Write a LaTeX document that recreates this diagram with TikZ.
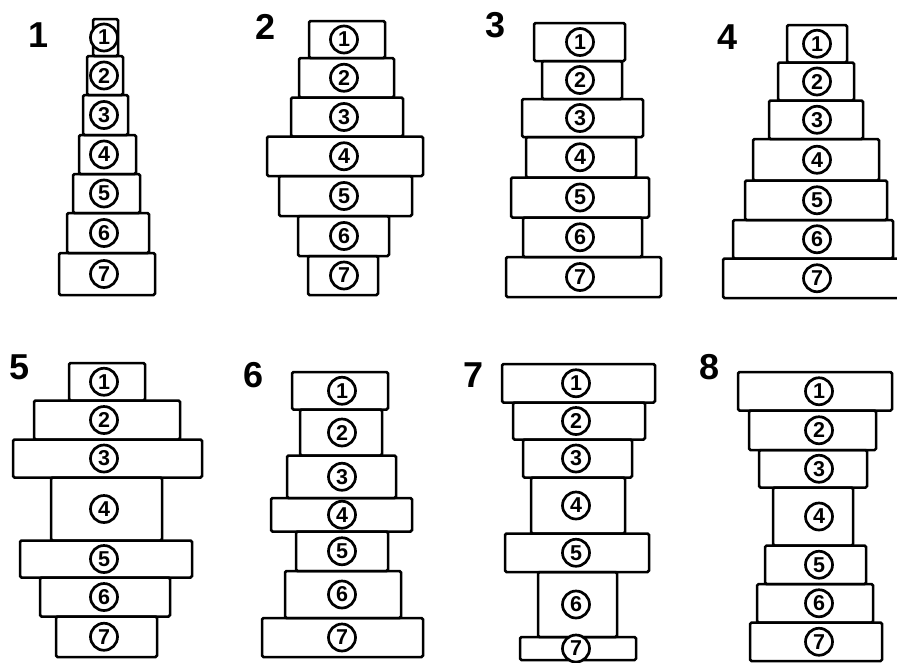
\documentclass[tikz,border=0pt]{standalone}
\usepackage{fontspec}
\setmainfont{Liberation Sans}
\newcommand\bx[7]{%
  \pgfmathsetmacro\bw{#3-#2}\pgfmathsetmacro\bh{#5-#4}%
  \pgfmathsetmacro\bxc{(#2+#3)/2}\pgfmathsetmacro\byc{(#4+#5)/2}%
  \node[blk, minimum width=\bw pt, minimum height=\bh pt] (#1) at (\bxc,\byc) {};%
  \node[num] (#1n) at (#6,\byc) {#7};}
\begin{document}
\begin{tikzpicture}[x=1pt,y=-1pt,
  blk/.style={draw, line width=2.5pt, rounded corners=1.5pt, inner sep=0pt},
  num/.style={circle, draw, line width=2.7pt, fill=white, minimum size=27pt, inner sep=0pt,
    font=\fontsize{21.5}{21.5}\selectfont\bfseries},
  lab/.style={inner sep=0pt, font=\fontsize{36}{36}\selectfont\bfseries}]
\useasboundingbox (0,0) rectangle (897,662);
% labels
\node[lab] (L1) at (39,35) {1};
\node[lab] (L2) at (266,27) {2};
\node[lab] (L3) at (496,25) {3};
\node[lab] (L4) at (728,37) {4};
\node[lab] (L5) at (20,367) {5};
\node[lab] (L6) at (254,375) {6};
\node[lab] (L7) at (474,375) {7};
\node[lab] (L8) at (710,367) {8};
% stack 1
\bx{a1}{93}{118}{19}{56}{104}{1}
\bx{a2}{87}{123}{56}{95}{104}{2}
\bx{a3}{83}{128}{95}{135}{104}{3}
\bx{a4}{79}{136}{135}{174}{104}{4}
\bx{a5}{73}{140}{174}{213}{104}{5}
\bx{a6}{67}{149}{213}{253}{104}{6}
\bx{a7}{59}{155}{253}{295}{104}{7}
% stack 2
\bx{b1}{309}{385}{21}{58}{344}{1}
\bx{b2}{299}{394}{58}{97.5}{344}{2}
\bx{b3}{291}{403}{97.5}{136.5}{344}{3}
\bx{b4}{267}{423}{136.5}{176}{344}{4}
\bx{b5}{279}{412}{176}{216}{344}{5}
\bx{b6}{298}{389}{216}{256}{344}{6}
\bx{b7}{308}{378}{256}{295}{344}{7}
% stack 3
\bx{c1}{534}{625}{23}{61}{580}{1}
\bx{c2}{542}{622}{61}{99}{580}{2}
\bx{c3}{522}{643}{99}{137}{580}{3}
\bx{c4}{526}{636}{137}{177.5}{580}{4}
\bx{c5}{511}{649}{177.5}{217.5}{580}{5}
\bx{c6}{523}{642}{217.5}{257}{580}{6}
\bx{c7}{506}{661}{257}{297}{580}{7}
% stack 4
\bx{d1}{787}{847}{25}{62.5}{817}{1}
\bx{d2}{778}{854}{62.5}{100.5}{817}{2}
\bx{d3}{769}{863}{100.5}{139}{817}{3}
\bx{d4}{753}{879}{139}{180.5}{817}{4}
\bx{d5}{745}{887}{180.5}{220}{817}{5}
\bx{d6}{733}{893}{220}{258.5}{817}{6}
\bx{d7}{723}{900}{258.5}{298}{817}{7}
% stack 5
\bx{e1}{69}{145}{363}{400.5}{104}{1}
\bx{e2}{34}{180}{400.5}{439.5}{104}{2}
\bx{e3}{13}{202}{439.5}{477.5}{104}{3}
\bx{e4}{51}{162}{477.5}{540.5}{104}{4}
\bx{e5}{20}{192}{540.5}{577.5}{104}{5}
\bx{e6}{40}{170}{577.5}{616.5}{104}{6}
\bx{e7}{56}{157}{616.5}{657}{104}{7}
% stack 6
\bx{f1}{292}{388}{372}{409.5}{342}{1}
\bx{f2}{300}{382}{409.5}{455.5}{342}{2}
\bx{f3}{287}{396}{455.5}{498}{342}{3}
\bx{f4}{271}{412}{498}{531.5}{342}{4}
\bx{f5}{296}{388}{531.5}{571}{342}{5}
\bx{f6}{285}{401}{571}{618}{342}{6}
\bx{f7}{262}{423}{618}{657}{342}{7}
% stack 7
\bx{g1}{502}{655}{364}{402.5}{576}{1}
\bx{g2}{513}{645}{402.5}{439.5}{576}{2}
\bx{g3}{523}{632}{439.5}{477.5}{576}{3}
\bx{g4}{531}{625}{477.5}{533.5}{576}{4}
\bx{g5}{505}{649}{533.5}{572}{576}{5}
\bx{g6}{538}{617}{572}{637}{576}{6}
\bx{g7}{520}{636}{637}{660}{576}{7}
% stack 8
\bx{h1}{738}{892}{372}{410.5}{819}{1}
\bx{h2}{749}{876}{410.5}{450}{819}{2}
\bx{h3}{759}{867}{450}{487.5}{819}{3}
\bx{h4}{773}{853}{487.5}{545.5}{819}{4}
\bx{h5}{765}{866}{545.5}{584}{819}{5}
\bx{h6}{757}{873}{584}{622.5}{819}{6}
\bx{h7}{750}{882}{622.5}{661}{819}{7}
\end{tikzpicture}
\end{document}
